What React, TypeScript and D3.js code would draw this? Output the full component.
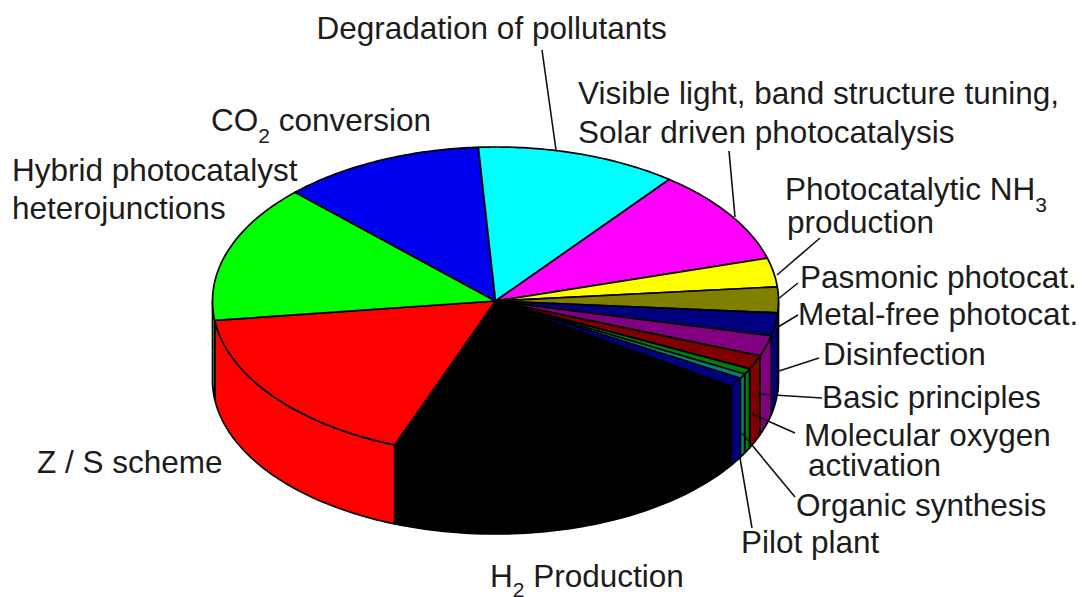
import React from "react";
import * as d3 from "d3";

// Shares of the pie, in percent of publications, clockwise from the H2 Production slice
const categories = [
  "H2 Production", "Z / S scheme", "Hybrid photocatalyst heterojunctions", "CO2 conversion",
  "Degradation of pollutants", "Visible light, band structure tuning, Solar driven photocatalysis",
  "Photocatalytic NH3 production", "Pasmonic photocat.", "Metal-free photocat.", "Disinfection",
  "Basic principles", "Molecular oxygen activation", "Organic synthesis", "Pilot plant",
];
const shares = [21.47, 17.17, 14.47, 11.55, 11.47, 9.97, 3.03, 2.69, 2.39, 2.17, 1.47, 0.6, 0.5, 0.94];
const colors = [
  "#000000", "#ff0000", "#00ff00", "#0000f0", "#00ffff", "#ff00ff", "#ffff00",
  "#808000", "#000080", "#800080", "#800000", "#008000", "#008080", "#000080",
];

type Piece = { text: string; sub?: boolean };
type Label = { x: number; y: number; subDy?: number; pieces: Piece[] };
const labels: Label[] = [
  { x: 316.5, y: 38.5, pieces: [{ text: "Degradation of pollutants" }] },
  { x: 578, y: 104, pieces: [{ text: "Visible light, band structure tuning," }] },
  { x: 578, y: 143, pieces: [{ text: "Solar driven photocatalysis" }] },
  { x: 785, y: 200, pieces: [{ text: "Photocatalytic NH" }, { text: "3", sub: true }] },
  { x: 787, y: 232.5, pieces: [{ text: "production" }] },
  { x: 800, y: 288, pieces: [{ text: "Pasmonic photocat." }] },
  { x: 798, y: 324.5, pieces: [{ text: "Metal-free photocat." }] },
  { x: 823, y: 365, pieces: [{ text: "Disinfection" }] },
  { x: 822, y: 408, pieces: [{ text: "Basic principles" }] },
  { x: 804, y: 446, pieces: [{ text: "Molecular oxygen" }] },
  { x: 808, y: 476, pieces: [{ text: "activation" }] },
  { x: 796, y: 516, pieces: [{ text: "Organic synthesis" }] },
  { x: 741, y: 553, pieces: [{ text: "Pilot plant" }] },
  { x: 490, y: 587, subDy: 10, pieces: [{ text: "H" }, { text: "2", sub: true }, { text: " Production" }] },
  { x: 37, y: 473, pieces: [{ text: "Z / S scheme" }] },
  { x: 211, y: 131, pieces: [{ text: "CO" }, { text: "2", sub: true }, { text: " conversion" }] },
  { x: 12, y: 180.5, pieces: [{ text: "Hybrid photocatalyst" }] },
  { x: 12, y: 218.5, pieces: [{ text: "heterojunctions" }] },
];
const leaders: [number, number, number, number][] = [
  [542, 50, 556, 150],
  [729, 151, 735, 217],
  [820, 238, 777, 275],
  [798, 283, 778, 299],
  [798, 315, 778, 327],
  [819, 358, 779, 371],
  [822, 398, 757, 394],
  [795, 433, 750, 413],
  [795, 497, 742, 433],
  [752, 528, 740, 458],
];

const W = 1083, H = 597;
const cx = 495.5, cy = 301, rx = 283, ry = 154, depth = 79;
const START = (123.5 * Math.PI) / 180;
const SUB_DY = 12;

const rim = (a: number, dy = 0): [number, number] => [
  cx + rx * Math.cos(a - Math.PI / 2),
  cy + ry * Math.sin(a - Math.PI / 2) + dy,
];
const sample = (a0: number, a1: number) =>
  d3.range(0, 61).map((i) => a0 + ((a1 - a0) * i) / 60);
const line = d3.line<[number, number]>();

export default function App() {
  const pie = d3.pie<number>().sort(null).startAngle(START).endAngle(START + 2 * Math.PI);
  const arcs = pie(shares);
  // the wall is visible where the rim runs along the front: pie angles 90..270 degrees
  const lo = Math.PI / 2, hi = (3 * Math.PI) / 2;
  const walls = arcs.flatMap((d, i) => {
    const out: { i: number; a0: number; a1: number }[] = [];
    for (const shift of [0, 2 * Math.PI]) {
      const a0 = Math.max(d.startAngle, lo + shift), a1 = Math.min(d.endAngle, hi + shift);
      if (a1 > a0) out.push({ i, a0, a1 });
    }
    return out;
  });
  return (
    <svg width={W} height={H} style={{ position: "absolute", left: 0, top: 0, background: "#fff" }}>
      <g stroke="#000" strokeWidth={1.7} strokeLinejoin="round">
        {walls.map((w, k) => {
          const s = sample(w.a0, w.a1);
          const pts = [...s.map((a) => rim(a)), ...s.reverse().map((a) => rim(a, depth))];
          return <path key={k} d={line(pts) + "Z"} fill={colors[w.i]} />;
        })}
        {arcs.map((d, i) => {
          const pts: [number, number][] = [[cx, cy], ...sample(d.startAngle, d.endAngle).map((a) => rim(a))];
          return (
            <path key={i} d={line(pts) + "Z"} fill={colors[i]}>
              <title>{categories[i]}</title>
            </path>
          );
        })}
      </g>
      <g stroke="#111" strokeWidth={1.6}>
        {leaders.map(([x1, y1, x2, y2], i) => (
          <line key={i} x1={x1} y1={y1} x2={x2} y2={y2} />
        ))}
      </g>
      <g fontFamily="'Liberation Sans', Arial, sans-serif" fontSize={31.5} fill="#1c1c1c">
        {labels.map((l, i) => {
          const sd = l.subDy ?? SUB_DY;
          return (
            <text key={i} x={l.x} y={l.y} xmlSpace="preserve">
              {l.pieces.map((p, j) =>
                p.sub ? (
                  <tspan key={j} fontSize={21} dy={sd}>{p.text}</tspan>
                ) : (
                  <tspan key={j} dy={j > 0 ? -sd : 0}>{p.text}</tspan>
                )
              )}
            </text>
          );
        })}
      </g>
    </svg>
  );
}
